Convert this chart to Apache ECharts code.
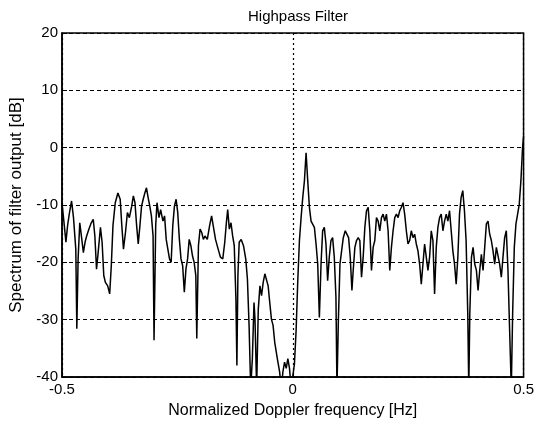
<!DOCTYPE html>
<html>
<head>
<meta charset="utf-8">
<script src="https://cdn.jsdelivr.net/npm/echarts@6/dist/echarts.min.js"></script>
<style>
  html, body { margin: 0; padding: 0; background: #fff; }
  #chart { width: 537px; height: 424px; }
</style>
</head>
<body>
<div id="chart"></div>
<script>
// spectrum, negative frequencies
const freqNeg = [-0.5, -0.495, -0.4915, -0.4879, -0.4843, -0.4793, -0.4751, -0.4701, -0.4679, -0.4651,
  -0.4615, -0.458, -0.4537, -0.4501, -0.4466, -0.4416, -0.4366, -0.4323, -0.4288, -0.4252,
  -0.4217, -0.4167, -0.4131, -0.4095, -0.406, -0.401, -0.3967, -0.3932, -0.3896, -0.3846,
  -0.3789, -0.3739, -0.3704, -0.3668, -0.3625, -0.3583, -0.354, -0.349, -0.3454, -0.3419,
  -0.3383, -0.3348, -0.3312, -0.3276, -0.3241, -0.3205, -0.317, -0.3134, -0.3098, -0.3063,
  -0.3027, -0.3006, -0.297, -0.2942, -0.2899, -0.2863, -0.2813, -0.2778, -0.2742, -0.2707,
  -0.2671, -0.2635, -0.26, -0.2564, -0.2528, -0.2493, -0.2457, -0.2422, -0.2386, -0.235,
  -0.2315, -0.2279, -0.2244, -0.2208, -0.2172, -0.2137, -0.2101, -0.208, -0.2044, -0.2009,
  -0.1973, -0.1937, -0.1902, -0.1852, -0.1802, -0.1759, -0.1724, -0.1674, -0.1617, -0.1567,
  -0.1517, -0.1474, -0.1439, -0.141, -0.1375, -0.1339, -0.1303, -0.1268, -0.1232, -0.1211,
  -0.1189, -0.1161, -0.1118, -0.1068, -0.1019, -0.0983, -0.0947, -0.0912, -0.0876, -0.084,
  -0.0819, -0.0783, -0.0748, -0.0712, -0.0677, -0.0641, -0.0605, -0.057, -0.0534, -0.0499,
  -0.0463, -0.0427, -0.0392, -0.0335, -0.0285, -0.0249, -0.0214, -0.0178, -0.0142, -0.0107,
  -0.0071, -0.0036];
const dbNeg = [-9.6, -13.6, -16.5, -13.6, -11.6, -9.3, -12.2, -17.7, -31.6, -19.4,
  -13.1, -15.4, -18.3, -16.5, -15.4, -14.2, -13.1, -12.5, -15.4, -21.2,
  -18.3, -13.9, -16.5, -22.3, -23.5, -24.1, -25.5, -20.6, -13.6, -9.6,
  -7.9, -9.0, -13.6, -17.7, -14.8, -11.3, -12.2, -10.2, -8.4, -9.6,
  -13.6, -16.8, -13.6, -10.2, -9.0, -7.9, -7.0, -8.7, -10.2, -11.9,
  -15.4, -33.6, -13.6, -9.6, -12.2, -10.8, -12.8, -11.9, -16.0, -17.7,
  -19.4, -20.0, -13.6, -10.2, -9.0, -11.3, -16.0, -19.4, -20.6, -25.2,
  -21.2, -19.4, -16.0, -17.1, -18.9, -20.0, -22.3, -33.3, -17.1, -14.2,
  -14.8, -16.0, -15.4, -16.0, -13.6, -11.9, -13.6, -16.0, -17.7, -19.1,
  -19.4, -16.5, -13.1, -10.8, -14.2, -13.1, -15.4, -17.1, -26.4, -38.0,
  -22.3, -16.5, -16.0, -17.1, -19.4, -22.9, -31.0, -42, -36.8, -27.0,
  -29.9, -42, -28.3, -24.1, -25.8, -23.5, -22.0, -21.8, -24.1, -27.0,
  -29.9, -31.0, -33.9, -36.8, -39.1, -42, -39.1, -37.4, -38.5, -36.8,
  -38.5, -42];

// positive frequencies
const freqPos = [0, 0.0036, 0.0072, 0.0108, 0.0144, 0.018, 0.0216, 0.0252, 0.0288, 0.0324,
  0.036, 0.0396, 0.0432, 0.0468, 0.0504, 0.054, 0.0576, 0.0612, 0.0647, 0.0683,
  0.0719, 0.0755, 0.0791, 0.0827, 0.0863, 0.0899, 0.0935, 0.0957, 0.0986, 0.1022,
  0.1058, 0.1094, 0.1137, 0.1173, 0.1209, 0.1245, 0.1281, 0.1309, 0.1345, 0.1381,
  0.1417, 0.1453, 0.1489, 0.1525, 0.1561, 0.1597, 0.1633, 0.1669, 0.1705, 0.1741,
  0.1777, 0.1813, 0.1849, 0.1885, 0.1921, 0.1957, 0.1993, 0.2029, 0.2065, 0.2101,
  0.2137, 0.2173, 0.2209, 0.2245, 0.2281, 0.2317, 0.2353, 0.2388, 0.2424, 0.246,
  0.2496, 0.2532, 0.2568, 0.2604, 0.264, 0.2676, 0.2712, 0.2748, 0.2784, 0.282,
  0.2856, 0.2892, 0.2928, 0.2964, 0.3, 0.3036, 0.3072, 0.3108, 0.3144, 0.318,
  0.3216, 0.3252, 0.3288, 0.3324, 0.336, 0.3396, 0.3432, 0.3468, 0.3504, 0.354,
  0.3576, 0.3612, 0.3647, 0.3683, 0.3719, 0.3755, 0.3791, 0.3813, 0.3835, 0.3871,
  0.3906, 0.3942, 0.3978, 0.4014, 0.405, 0.4086, 0.4122, 0.4158, 0.4194, 0.423,
  0.4266, 0.4302, 0.4338, 0.4374, 0.441, 0.4446, 0.4482, 0.4518, 0.4554, 0.459,
  0.4626, 0.4662, 0.4698, 0.4734, 0.4763, 0.4799, 0.4835, 0.4871, 0.4906, 0.4942,
  0.4978, 0.5];
const dbPos = [-42, -37.7, -31.9, -23.2, -16.2, -12.2, -8.7, -5.8, -0.9, -5.8,
  -10.4, -12.8, -13.0, -13.9, -16.8, -20.3, -29.6, -20.3, -14.5, -13.9,
  -16.8, -23.2, -19.1, -16.2, -15.7, -19.1, -26.1, -42, -30.7, -20.3,
  -18.0, -15.7, -14.5, -14.5, -15.7, -19.1, -24.9, -21.4, -17.4, -16.2,
  -15.7, -16.2, -22.6, -19.1, -13.9, -11.0, -10.4, -14.5, -21.4, -17.4,
  -16.2, -12.2, -12.8, -14.5, -12.2, -11.6, -12.8, -11.6, -14.5, -21.4,
  -17.4, -14.5, -12.2, -11.6, -12.2, -11.0, -10.4, -9.6, -11.6, -14.5,
  -16.8, -16.2, -14.5, -15.7, -15.1, -16.8, -18.0, -20.3, -23.8, -20.3,
  -16.8, -19.1, -21.4, -19.1, -14.5, -16.2, -25.5, -17.4, -13.9, -12.2,
  -11.6, -14.5, -12.8, -11.6, -12.8, -11.0, -14.5, -18.0, -20.3, -23.8,
  -19.1, -11.6, -8.7, -7.5, -11.0, -16.2, -29.0, -42, -29.0, -19.1,
  -17.4, -20.3, -21.4, -24.9, -21.4, -18.6, -21.4, -17.4, -13.3, -12.8,
  -15.1, -16.2, -18.0, -20.3, -17.4, -17.4, -20.3, -22.6, -19.1, -15.7,
  -14.5, -21.4, -31.9, -42, -29.0, -17.4, -13.3, -11.6, -9.9, -5.8,
  0, 2];

const xTicks = [-0.5, 0, 0.5];
const yTicks = [-40, -30, -20, -10, 0, 10, 20];

const freqs = freqNeg.concat(freqPos);
const dbs = dbNeg.concat(dbPos);
const points = freqs.map((f, i) => [f, dbs[i]]);

const FONT = "Liberation Sans";

const chart = echarts.init(document.getElementById("chart"), null, { renderer: "canvas" });
chart.setOption({
  backgroundColor: "#fff",
  animation: false,
  title: {
    text: "Highpass Filter",
    left: 293,
    top: 4,
    textAlign: "center",
    textStyle: { fontFamily: FONT, fontSize: 15, fontWeight: "normal", color: "#000" },
  },
  grid: {
    left: 61,
    right: 12,
    top: 33,
    bottom: 47,
    show: true,
    borderColor: "#000",
    borderWidth: 1.5,
    backgroundColor: "#fff",
  },
  xAxis: {
    type: "value",
    min: xTicks[0],
    max: xTicks[xTicks.length - 1],
    interval: 0.5,
    name: "Normalized Doppler frequency [Hz]",
    nameLocation: "middle",
    nameGap: 26,
    nameTextStyle: { fontFamily: FONT, fontSize: 16, color: "#000" },
    axisLine: { show: true, onZero: false, lineStyle: { color: "#000", width: 1.5 } },
    axisTick: { show: true, inside: true, length: 5, lineStyle: { color: "#000" } },
    axisLabel: {
      fontFamily: FONT, fontSize: 15, color: "#000", margin: 5,
      formatter: (v) => (xTicks.includes(v) ? String(v) : ""),
    },
    splitLine: { show: true, lineStyle: { color: "#000", type: [2, 3], width: 1.2 } },
  },
  yAxis: {
    type: "value",
    min: yTicks[0],
    max: yTicks[yTicks.length - 1],
    interval: 10,
    name: "Spectrum of filter output [dB]",
    nameLocation: "middle",
    nameGap: 37,
    nameTextStyle: { fontFamily: FONT, fontSize: 17, color: "#000" },
    axisLine: { show: true, onZero: false, lineStyle: { color: "#000", width: 1.5 } },
    axisTick: { show: true, inside: true, length: 5, lineStyle: { color: "#000" } },
    axisLabel: { fontFamily: FONT, fontSize: 15, color: "#000", margin: 4 },
    splitLine: { show: true, lineStyle: { color: "#000", type: [4, 3], width: 1.2 } },
  },
  series: [
    {
      type: "line",
      data: points,
      showSymbol: false,
      clip: true,
      lineStyle: { color: "#000", width: 1.5 },
    },
  ],
});
</script>
</body>
</html>
